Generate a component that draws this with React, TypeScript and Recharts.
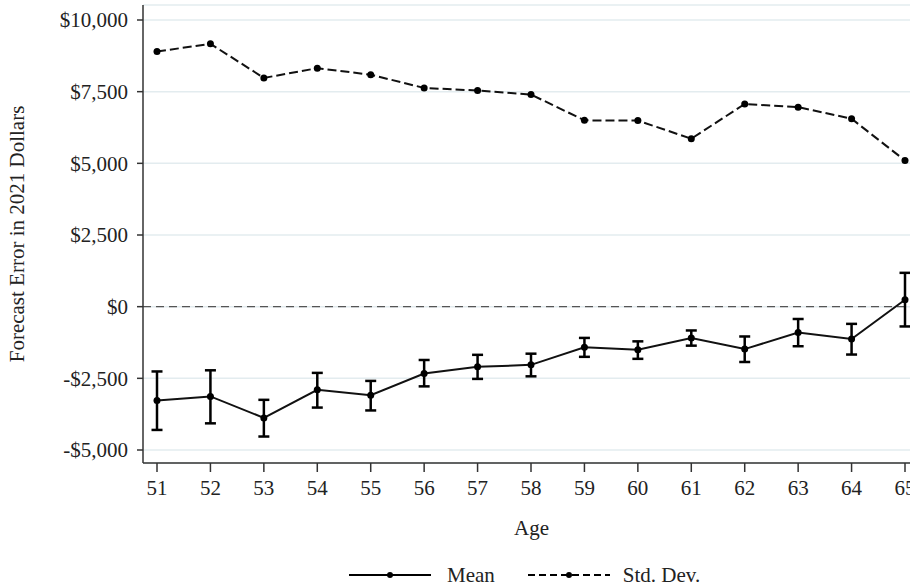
import { CartesianGrid, ErrorBar, Legend, Line, LineChart, ReferenceLine, XAxis, YAxis } from 'recharts';

const ages = [51, 52, 53, 54, 55, 56, 57, 58, 59, 60, 61, 62, 63, 64, 65];
const meanValues = [-3270, -3130, -3880, -2900, -3090, -2330, -2100, -2030, -1420, -1500, -1090, -1480, -900, -1130, 240];
const meanUpper = [-2260, -2220, -3250, -2310, -2590, -1860, -1680, -1640, -1090, -1210, -830, -1040, -430, -600, 1180];
const meanLower = [-4300, -4070, -4530, -3520, -3620, -2780, -2520, -2430, -1750, -1820, -1360, -1930, -1380, -1670, -690];
const stdDevValues = [8900, 9170, 7980, 8320, 8090, 7630, 7540, 7400, 6500, 6490, 5860, 7070, 6960, 6555, 5100];
const yTicks = [-5000, -2500, 0, 2500, 5000, 7500, 10000];

const FONT = '"Liberation Serif", "Times New Roman", serif';
const TEXT = '#222';

const data = ages.map((age, i) => ({
  age,
  mean: meanValues[i],
  err: [meanValues[i] - meanLower[i], meanUpper[i] - meanValues[i]],
  sd: stdDevValues[i],
}));

const fmtDollars = (v: number) => (v < 0 ? '-$' : '$') + Math.abs(v).toLocaleString('en-US');

function LegendKey({ dashed }: { dashed?: boolean }) {
  return (
    <svg width={82} height={20}>
      <line x1={0} y1={10} x2={82} y2={10} stroke="#000" strokeWidth={2} strokeDasharray={dashed ? '7 4' : undefined} />
      <circle cx={41} cy={10} r={3} fill="#000" />
    </svg>
  );
}

const renderLegend = () => (
  <div style={{ display: 'flex', alignItems: 'center', paddingLeft: 349, height: 20, fontFamily: FONT, fontSize: 21, color: TEXT }}>
    <LegendKey />
    <span style={{ marginLeft: 16, marginRight: 33 }}>Mean</span>
    <LegendKey dashed />
    <span style={{ marginLeft: 13 }}>Std. Dev.</span>
  </div>
);

export default function App() {
  return (
    <div style={{ position: 'absolute', left: 0, top: 0, width: 910, height: 588, background: '#fff', overflow: 'hidden' }}>
      <LineChart width={910} height={588} data={data} margin={{ top: 5, right: 0, left: 0, bottom: 3 }}>
        <CartesianGrid vertical={false} stroke="#e3ecef" strokeWidth={1.5} />
        <XAxis
          dataKey="age"
          type="number"
          domain={[51, 65]}
          ticks={ages}
          interval={0}
          padding={{ left: 14, right: 5 }}
          height={102}
          stroke="#333"
          strokeWidth={1.5}
          tickSize={9}
          tickMargin={8}
          tick={{ fill: TEXT, fontFamily: FONT, fontSize: 21 }}
          label={{ value: 'Age', position: 'insideBottom', offset: 30, dx: 5, fill: TEXT, fontFamily: FONT, fontSize: 21 }}
        />
        <YAxis
          domain={[-5000, 10000]}
          ticks={yTicks}
          interval={0}
          padding={{ top: 15, bottom: 13 }}
          width={143}
          stroke="#333"
          strokeWidth={1.5}
          tickSize={6}
          tickMargin={9}
          tickFormatter={fmtDollars}
          tick={{ fill: TEXT, fontFamily: FONT, fontSize: 21 }}
          label={{
            value: 'Forecast Error in 2021 Dollars',
            angle: -90,
            position: 'insideLeft',
            offset: 17,
            style: { textAnchor: 'middle', fill: TEXT, fontFamily: FONT, fontSize: 21 },
          }}
        />
        <ReferenceLine y={0} stroke="#555" strokeWidth={1.3} strokeDasharray="8 5" />
        <Line
          type="linear"
          dataKey="sd"
          stroke="#111"
          strokeWidth={2}
          strokeDasharray="9 4"
          dot={{ r: 3.5, fill: '#000', stroke: '#000', strokeWidth: 0 }}
          activeDot={false}
          isAnimationActive={false}
        />
        <Line
          type="linear"
          dataKey="mean"
          stroke="#111"
          strokeWidth={2}
          dot={{ r: 3.5, fill: '#000', stroke: '#000', strokeWidth: 0 }}
          activeDot={false}
          isAnimationActive={false}
        >
          <ErrorBar dataKey="err" direction="y" width={5.5} stroke="#000" strokeWidth={2.5} isAnimationActive={false} />
        </Line>
        <Legend verticalAlign="bottom" content={renderLegend} wrapperStyle={{ height: 20 }} />
      </LineChart>
    </div>
  );
}
